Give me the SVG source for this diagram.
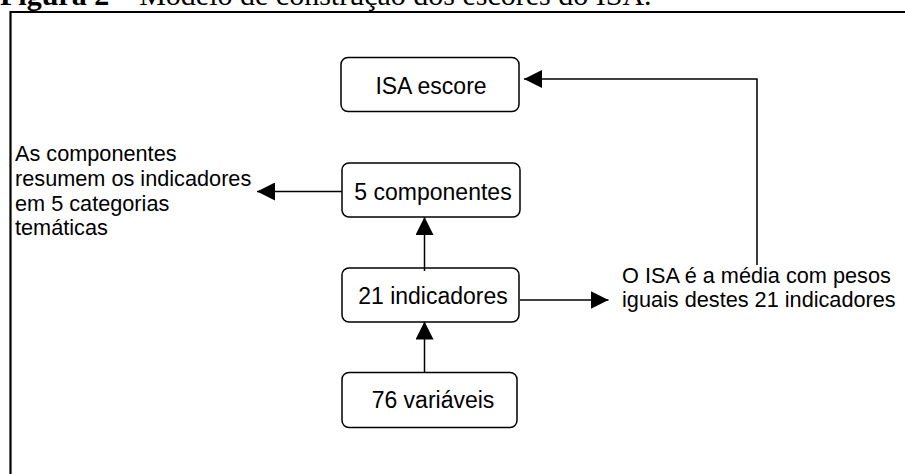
<svg xmlns="http://www.w3.org/2000/svg" width="905" height="474" viewBox="0 0 905 474">
  <defs>
    <marker id="arrow" viewBox="0 0 18 18" refX="18" refY="9" markerWidth="18" markerHeight="18" markerUnits="userSpaceOnUse" orient="auto">
      <path d="M0,0 L18,9 L0,18 Z" fill="#000"/>
    </marker>
  </defs>
  <style>
    .box { fill: #fff; stroke: #000; stroke-width: 1.5; }
    .lbl { font-family: "Liberation Sans", Arial, sans-serif; font-size: 23px; fill: #000; text-anchor: middle; }
    .note { font-family: "Liberation Sans", Arial, sans-serif; font-size: 21.7px; fill: #000; }
    .wire { fill: none; stroke: #000; stroke-width: 1.5; }
    .title { font-family: "Liberation Serif", "Times New Roman", serif; font-size: 30px; fill: #000; }
  </style>
  <rect width="905" height="474" fill="#fff"/>

  <!-- caption -->
  <text class="title" x="0" y="4.5"><tspan font-weight="bold">Figura 2</tspan> – Modelo de construção dos escores do ISA.</text>

  <!-- figure frame -->
  <path d="M10.5,480 V12 H910" fill="none" stroke="#000" stroke-width="2.2"/>

  <!-- nodes -->
  <g id="isa-escore">
    <rect class="box" x="341" y="57.5" width="178" height="54" rx="7"/>
    <text class="lbl" x="431" y="93.5">ISA escore</text>
  </g>
  <g id="componentes">
    <rect class="box" x="342" y="163" width="178" height="54" rx="7"/>
    <text class="lbl" x="433" y="199.5">5 componentes</text>
  </g>
  <g id="indicadores">
    <rect class="box" x="342" y="268" width="177" height="54" rx="7"/>
    <text class="lbl" x="433" y="303.5">21 indicadores</text>
  </g>
  <g id="variaveis">
    <rect class="box" x="342" y="372.5" width="175" height="55" rx="7"/>
    <text class="lbl" x="433" y="408">76 variáveis</text>
  </g>

  <g id="nota-componentes">
    <text class="note" x="15" y="161">As componentes</text>
    <text class="note" x="15" y="186">resumem os indicadores</text>
    <text class="note" x="15" y="210.5">em 5 categorias</text>
    <text class="note" x="15" y="235">temáticas</text>
  </g>
  <g id="nota-isa">
    <text class="note" x="622" y="283">O ISA é a média com pesos</text>
    <text class="note" x="622" y="307">iguais destes 21 indicadores</text>
  </g>

  <!-- connectors -->
  <g id="connectors">
    <line class="wire" x1="424.5" y1="372" x2="424.5" y2="321.5" marker-end="url(#arrow)"/>
    <line class="wire" x1="424.5" y1="271" x2="424.5" y2="217" marker-end="url(#arrow)"/>
    <line class="wire" x1="342" y1="191.5" x2="257" y2="191.5" marker-end="url(#arrow)"/>
    <line class="wire" x1="520" y1="300" x2="608.5" y2="300" marker-end="url(#arrow)"/>
    <polyline class="wire" points="757,265 757,79 524,79" marker-end="url(#arrow)"/>
  </g>
</svg>
